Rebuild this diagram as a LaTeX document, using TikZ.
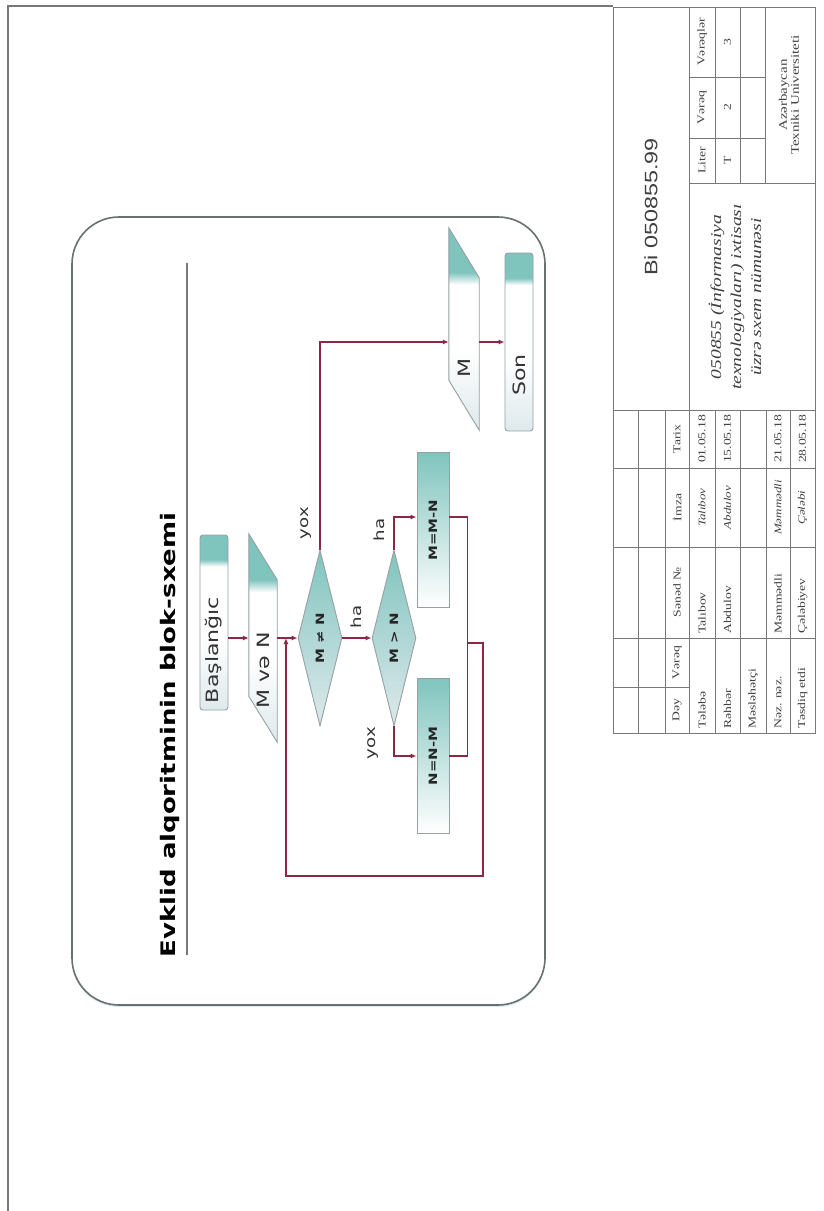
\documentclass[tikz,border=0pt]{standalone}
\usepackage{fontspec}
\setmainfont{Liberation Serif}[FakeStretch=1.3]
\newfontfamily\diagfont{DejaVu Sans}[FakeStretch=1.3]
\newfontfamily\codefont{Liberation Sans}[FakeStretch=1.3]
\usetikzlibrary{arrows.meta,shapes.geometric,positioning,calc,shadows}

\definecolor{tealc}{RGB}{128,196,190}
\definecolor{paleb}{RGB}{222,233,236}
\definecolor{wire}{RGB}{140,40,70}
\definecolor{edgeg}{RGB}{150,160,162}
\definecolor{frameg}{RGB}{105,112,112}
\definecolor{gridg}{RGB}{120,120,120}

\pgfdeclareverticalshading{termshade}{100bp}{color(0bp)=(paleb); color(25bp)=(paleb); color(45bp)=(white); color(66bp)=(white); color(68bp)=(tealc); color(100bp)=(tealc)}
\pgfdeclareverticalshading{ioshade}{100bp}{color(0bp)=(paleb); color(25bp)=(paleb); color(45bp)=(white); color(61bp)=(white); color(64bp)=(tealc); color(100bp)=(tealc)}

\tikzset{
  flowline/.style={wire, line width=1.4pt},
  arr/.style={flowline, -{Latex[length=6pt,width=5pt]}},
  startstop/.style={rectangle, rounded corners=3pt, draw=edgeg, line width=0.9pt, shade, shading=termshade, minimum width=28pt, inner sep=0pt},
  iobox/.style={rectangle, draw=none, minimum width=28pt, inner sep=0pt},
  decision/.style={diamond, draw=edgeg, line width=0.9pt, top color=tealc, bottom color=paleb, minimum width=44pt, minimum height=176pt, inner sep=0pt},
  process/.style={rectangle, draw=edgeg, line width=0.9pt, top color=tealc, middle color=tealc!45!white, bottom color=white, minimum width=32pt, minimum height=155pt, inner sep=0pt},
  blab/.style={rotate=90, inner sep=0pt, text=black!80, font={\diagfont\fontsize{17pt}{17pt}\selectfont}},
  flab/.style={rotate=90, inner sep=0pt, text=black!80, font={\diagfont\fontsize{14pt}{14pt}\selectfont}},
  slab/.style={rotate=90, inner sep=0pt, text=black!85, font={\diagfont\bfseries\fontsize{11.5pt}{11.5pt}\selectfont}},
  cell/.style={rotate=90, inner sep=0pt, text=black!75, font={\fontsize{10.5pt}{12pt}\selectfont}},
  grid/.style={gridg, line width=0.8pt}
}

\newcommand{\iopara}[2]{%
  \draw[draw=edgeg, line width=0.9pt, shade, shading=ioshade]
    (#1.north west) -- ($(#1.north east)+(0,#2)$) -- (#1.south east)
    -- ($(#1.south west)+(0,-#2)$) -- cycle;}

\begin{document}
\begin{tikzpicture}[x=1pt,y=-1pt]
\useasboundingbox (0,0) rectangle (823,1211);
\fill[white] (0,0) rectangle (823,1211);

% page frame
\draw[gridg, line width=1.5pt] (8,1211) -- (8,6) -- (613,6);

% diagram panel
\draw[frameg, line width=1.6pt, rounded corners=47pt, fill=white,
  drop shadow={shadow xshift=0pt, shadow yshift=-2pt, fill=tealc!60, opacity=0.5}]
  (72,217) rectangle (545,1005);
\node[rotate=90, inner sep=0pt, font={\diagfont\bfseries\fontsize{20pt}{20pt}\selectfont}] (title) at (170,735) {Evklid alqoritminin blok-sxemi};
\draw[gridg, line width=2pt] (187,263) -- (187,955);

% blocks
\node[startstop, minimum height=175pt] (start) at (214,622.5) {};
\node[blab] (tstart) at (214,650) {Başlanğıc};
\node[iobox, minimum height=208pt] (mvn) at (263,638) {};
\iopara{mvn}{46}
\node[blab] (tmvn) at (263,670) {M və N};
\node[decision] (d1) at (320,638) {};
\node[slab] (td1) at (d1) {M ≠ N};
\node[decision] (d2) at (394,638) {};
\node[slab] (td2) at (d2) {M > N};
\node[process] (mmn) at (433,530) {};
\node[slab] (tmmn) at (mmn) {M=M-N};
\node[process] (nnm) at (433,756) {};
\node[slab] (tnnm) at (nnm) {N=N-M};
\node[iobox, minimum width=30pt, minimum height=202pt] (mout) at (464,329) {};
\iopara{mout}{50}
\node[blab] (tmout) at (464,368) {M};
\node[startstop, minimum height=178pt] (son) at (519,342) {};
\node[blab] (tson) at (519,375) {Son};

% labels
\node[flab] (lyox1) at (306,523) {yox};
\node[flab] (lha1) at (356,617) {ha};
\node[flab] (lha2) at (379,530) {ha};
\node[flab] (lyox2) at (373,743) {yox};

% connectors
\coordinate (jn) at ($(mvn.east |- d1.west)!0.43!(d1.west)$);
\coordinate (mrg) at ($(mmn.east)!0.5!(nnm.east)+(18,0)$);
\coordinate (loopr) at (483,876);
\draw[arr] (start.east |- d1.west) -- (mvn.west |- d1.west);
\draw[arr] (mvn.east |- d1.west) -- (d1.west);
\draw[arr] (d1.north) |- (mout.west |- son.west);
\draw[arr] (mout.east |- son.west) -- (son.west);
\draw[arr] (d1.east) -- (d2.west);
\draw[arr] (d2.north) |- ($(mmn.west)+(0,-13)$);
\draw[arr] (d2.south) |- (nnm.west);
\draw[flowline] ($(mmn.east)+(0,-13)$) -| (mrg) |- (nnm.east);
\draw[arr] (mrg) -- (loopr |- mrg) -- (loopr) -| (jn);

% title block grid
\draw[grid] (613,7) rectangle (815,733);
\foreach \xx in {638,665,689,715,740,766,790}
  \draw[grid] (\xx,410) -- (\xx,733);
\draw[grid] (689,7) -- (689,410);
\foreach \xx in {715,740,765}
  \draw[grid] (\xx,7) -- (\xx,183);
\draw[grid] (613,410) -- (815,410);
\draw[grid] (689,183) -- (815,183);
\foreach \yy in {77,138}
  \draw[grid] (689,\yy) -- (765,\yy);
\foreach \yy in {468,547,638}
  \draw[grid] (613,\yy) -- (815,\yy);
\draw[grid] (613,687) -- (689,687);

% title block texts
\node[rotate=90, inner sep=0pt, text=black!75, font={\codefont\fontsize{18pt}{18pt}\selectfont}] (code) at (651,207) {Bi 050855.99};
\node[cell, align=center, font={\itshape\fontsize{15pt}{20pt}\selectfont}] (topic) at (735,297) {050855 (İnformasiya\\texnologiyaları) ixtisası\\üzrə sxem nümunəsi};
\node[cell, align=center, font={\fontsize{11.5pt}{12pt}\selectfont}] (univ) at (789,95) {Azərbaycan\\Texniki Universiteti};
\foreach \nm/\yy/\txt in {hlit/160.5/Liter, hvrg/107.5/Vərəq, hvrs/42/Vərəqlər}
  \node[cell] (\nm) at (702,\yy) {\txt};
\foreach \nm/\yy/\txt in {vlit/160.5/T, vvrg/107.5/2, vvrs/42/3}
  \node[cell] (\nm) at (727.5,\yy) {\txt};
\foreach \nm/\yy/\txt in {hdey/710/Dəy, hvrq/662.5/Vərəq, hsnd/592.5/Sənəd №, himz/507.5/İmza, htar/439/Tarix}
  \node[cell] (\nm) at (677,\yy) {\txt};
\foreach \nm/\xx/\role/\who/\sig/\dt in {
    rtel/702/Tələbə/Talıbov/Talıbov/01.05.18,
    rreh/727.5/Rəhbər/Abdulov/Abdulov/15.05.18,
    rmes/753/Məsləhətçi/{}/{}/{},
    rnez/778/Nəz. nəz./Məmmədli/Məmmədli/21.05.18,
    rtes/802.5/Təsdiq etdi/Çələbiyev/Çələbi/28.05.18}{
  \node[cell, anchor=west] (\nm r) at (\xx,729) {\role};
  \node[cell, anchor=west] (\nm w) at (\xx,634) {\who};
  \node[cell, font={\itshape\fontsize{10pt}{12pt}\selectfont}] (\nm s) at (\xx,507.5) {\sig};
  \node[cell] (\nm d) at (\xx,439) {\dt};
}
\end{tikzpicture}
\end{document}
